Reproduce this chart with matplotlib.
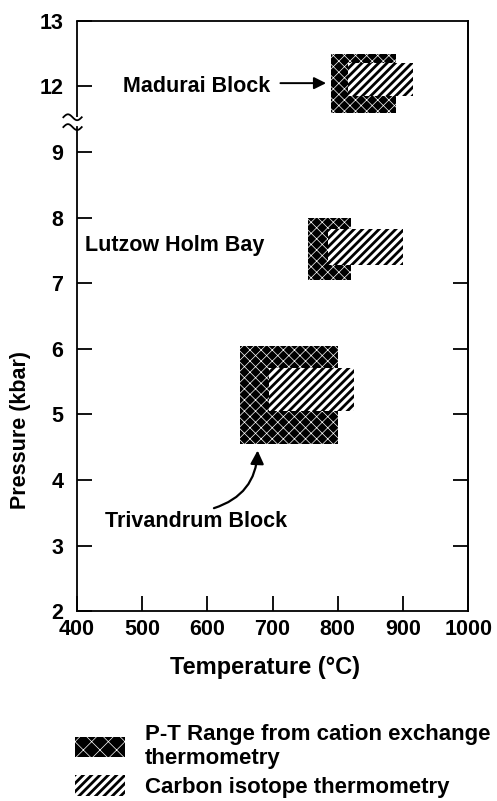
import numpy as np
import matplotlib
matplotlib.use("Agg")
import matplotlib.pyplot as plt
from matplotlib.patches import Patch, Rectangle
from matplotlib.legend_handler import HandlerTuple

plt.rcParams['font.family'] = ['Liberation Sans', 'DejaVu Sans']
plt.rcParams['font.weight'] = 'bold'

# P-T boxes (T in degC, P in kbar)
regions = ["Madurai Block", "Lutzow Holm Bay", "Trivandrum Block"]
cation_t_min = [790, 755, 650]
cation_t_max = [890, 820, 800]
cation_p_min = [11.6, 7.05, 4.55]
cation_p_max = [12.5, 8.0, 6.05]
carbon_t_min = [815, 785, 695]
carbon_t_max = [915, 900, 825]
carbon_p_min = [11.85, 7.28, 5.05]
carbon_p_max = [12.35, 7.82, 5.7]

x_ticks = [400, 500, 600, 700, 800, 900, 1000]
y_tick_values = [2, 3, 4, 5, 6, 7, 8, 9, 12, 13]

CROSS_LW = 0.5
STRIPE_LW = 2.0


def to_axis(p):
    # broken pressure axis: 9.5 .. 11.5 kbar is cut out
    p = np.asarray(p, dtype=float)
    return np.where(p > 10.5, p - 2.0, p)


fig = plt.figure(figsize=(4.97, 8.01), dpi=100)
ax = fig.add_axes([0.155, 0.237, 0.787, 0.737])


def set_hatch_lw(patches, lw):
    for p in patches:
        if hasattr(p, 'set_hatch_linewidth'):
            p.set_hatch_linewidth(lw)


cw = np.subtract(cation_t_max, cation_t_min)
ch = to_axis(cation_p_max) - to_axis(cation_p_min)
ax.bar(cation_t_min, ch, width=cw, bottom=to_axis(cation_p_min), align='edge',
       color='black', linewidth=0, zorder=2)
with plt.rc_context({'hatch.linewidth': CROSS_LW}):
    b = ax.bar(cation_t_min, ch, width=cw, bottom=to_axis(cation_p_min), align='edge',
               facecolor='none', edgecolor='white', hatch='xxx', linewidth=0, zorder=3)
set_hatch_lw(b, CROSS_LW)

kw = np.subtract(carbon_t_max, carbon_t_min)
kh = to_axis(carbon_p_max) - to_axis(carbon_p_min)
with plt.rc_context({'hatch.linewidth': STRIPE_LW}):
    b2 = ax.bar(carbon_t_min, kh, width=kw, bottom=to_axis(carbon_p_min), align='edge',
                facecolor='white', edgecolor='black', hatch='////', linewidth=0, zorder=4)
set_hatch_lw(b2, STRIPE_LW)

# region labels and arrows
lab_fs = 15.5
ax.text(470, to_axis(12.0), regions[0], fontsize=lab_fs, fontweight='bold',
        ha='left', va='center')
ax.annotate('', xy=(782, to_axis(12.05)), xytext=(712, to_axis(12.05)),
            arrowprops=dict(arrowstyle='-|>', color='black', lw=1.4,
                            mutation_scale=18, shrinkA=0, shrinkB=0))
ax.text(412, 7.58, regions[1], fontsize=lab_fs, fontweight='bold',
        ha='left', va='center')
ax.text(443, 3.36, regions[2], fontsize=lab_fs, fontweight='bold',
        ha='left', va='center')
ax.annotate('', xy=(677, 4.45), xytext=(610, 3.57),
            arrowprops=dict(arrowstyle='-|>', color='black', lw=1.6,
                            mutation_scale=20, shrinkA=0, shrinkB=0,
                            connectionstyle='arc3,rad=0.35'))

ax.set_xlim(400, 1000)
ax.set_ylim(2, 11)
ax.set_xticks(x_ticks)
ax.set_xticklabels([str(v) for v in x_ticks])
ax.set_yticks(to_axis(y_tick_values))
ax.set_yticklabels([str(v) for v in y_tick_values])
ax.tick_params(axis='both', direction='in', length=11, width=1.3,
               labelsize=15.5, color='black')
ax.tick_params(axis='y', pad=10)
ax.tick_params(axis='x', pad=6)
for lbl in ax.get_xticklabels() + ax.get_yticklabels():
    lbl.set_fontweight('bold')

for s in ax.spines.values():
    s.set_linewidth(1.3)

# right-hand ticks only at 3..7 kbar
sec = ax.secondary_yaxis('right')
sec.set_yticks([3, 4, 5, 6, 7])
sec.set_yticklabels([])
sec.tick_params(direction='in', length=11, width=1.3)
sec.spines['right'].set_linewidth(1.3)

# axis break on the left spine
ax.spines['left'].set_bounds(2, 9.38)
yt = ax.get_yaxis_transform()
ax.plot([0, 0], [9.53, 11], transform=yt, color='black', lw=1.3,
        clip_on=False, solid_capstyle='butt')
sx = np.linspace(-0.035, 0.012, 30)
for yc in (9.38, 9.53):
    ax.plot(sx, yc + 0.045 * np.sin((sx + 0.035) / 0.047 * 2 * np.pi),
            transform=yt, color='black', lw=1.3, clip_on=False)

fig.text(0.534, 0.167, 'Temperature (°C)', fontsize=17, fontweight='bold',
         ha='center', va='center')
fig.text(0.042, 0.463, 'Pressure (kbar)', fontsize=15.5, fontweight='bold',
         ha='center', va='center', rotation=90)

# legend
black_patch = Patch(facecolor='black', edgecolor='black', linewidth=0)
cross_patch = Patch(facecolor='none', edgecolor='white', hatch='xx', linewidth=0)
stripe_patch = Patch(facecolor='white', edgecolor='black', hatch='////', linewidth=0)
leg = fig.legend(handles=[(black_patch, cross_patch), stripe_patch],
                 labels=['P-T Range from cation exchange\nthermometry',
                         'Carbon isotope thermometry'],
                 handler_map={tuple: HandlerTuple(ndivide=1)},
                 loc='upper left', bbox_to_anchor=(0.151, 0.096), frameon=False,
                 prop={'weight': 'bold', 'size': 16}, borderpad=0, borderaxespad=0,
                 handlelength=2.25, handleheight=1.04, handletextpad=0.9,
                 labelspacing=0.27)
for r in leg.findobj(Rectangle):
    h = r.get_hatch()
    if h and 'x' in h:
        set_hatch_lw([r], CROSS_LW)
    elif h:
        set_hatch_lw([r], STRIPE_LW)

fig.savefig('out.png', dpi=100)
